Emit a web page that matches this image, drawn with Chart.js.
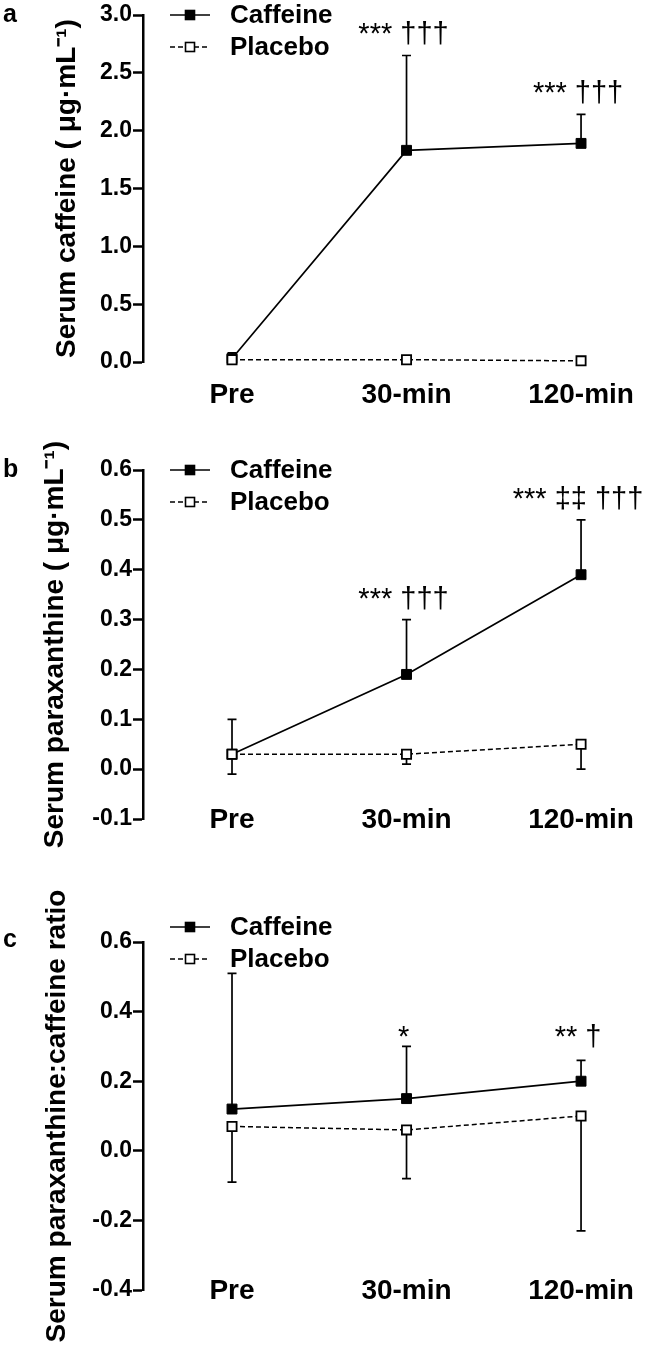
<!DOCTYPE html>
<html lang="en">
<head>
<meta charset="UTF-8">
<title>Serum caffeine and paraxanthine</title>
<script src="https://cdn.jsdelivr.net/npm/chart.js@4.4.1/dist/chart.umd.min.js"></script>
<style>
    body { margin: 0; background: #fff; }
    .panel { position: absolute; left: 0; }
</style>
</head>
<body>
<div class="panel" style="top:0"><canvas id="chartA" width="646" height="420"></canvas></div>
<div class="panel" style="top:420px"><canvas id="chartB" width="646" height="450"></canvas></div>
<div class="panel" style="top:870px"><canvas id="chartC" width="646" height="481"></canvas></div>
<script>
const timepoints = ['Pre', '30-min', '120-min'];

// a: serum caffeine
const caffeineA = [0.03, 1.83, 1.89];
const caffeineSdA = [0.05, 0.82, 0.25];
const placeboA = [0.02, 0.02, 0.01];
const placeboSdA = [0, 0, 0];
const ticksA = [0.0, 0.5, 1.0, 1.5, 2.0, 2.5, 3.0];
const notesA = ['', '*** †††', '*** †††'];

// b: serum paraxanthine
const caffeineB = [0.03, 0.19, 0.39];
const caffeineSdB = [0.07, 0.11, 0.11];
const placeboB = [0.03, 0.03, 0.05];
const placeboSdB = [0.04, 0.02, 0.05];
const ticksB = [-0.1, 0.0, 0.1, 0.2, 0.3, 0.4, 0.5, 0.6];
const notesB = ['', '*** †††', '*** ‡‡ †††'];

// c: paraxanthine:caffeine ratio
const caffeineC = [0.12, 0.15, 0.20];
const caffeineSdC = [0.39, 0.15, 0.06];
const placeboC = [0.07, 0.06, 0.10];
const placeboSdC = [0.16, 0.14, 0.33];
const ticksC = [-0.4, -0.2, 0.0, 0.2, 0.4, 0.6];
const notesC = ['', '*', '** †'];

const FONT = '"Liberation Sans", Arial, Helvetica, sans-serif';

// error bars, legend, panel letter and significance marks
const panelExtras = {
    id: 'panelExtras',
    beforeDatasetsDraw(chart) {
        const ctx = chart.ctx;
        const y = chart.scales.y;
        ctx.save();
        ctx.strokeStyle = '#000';
        ctx.lineWidth = 1.7;
        chart.data.datasets.forEach((ds, di) => {
            const meta = chart.getDatasetMeta(di);
            ds.sd.forEach((sd, i) => {
                if (!sd) return;
                const pt = meta.data[i];
                const y1 = y.getPixelForValue(ds.data[i].y + ds.errDir * sd);
                ctx.beginPath();
                ctx.moveTo(pt.x, pt.y);
                ctx.lineTo(pt.x, y1);
                ctx.moveTo(pt.x - 4.5, y1);
                ctx.lineTo(pt.x + 4.5, y1);
                ctx.stroke();
            });
        });
        ctx.restore();
    },
    afterDraw(chart, args, opts) {
        const ctx = chart.ctx;
        const xs = chart.scales.x, ys = chart.scales.y;
        ctx.save();
        ctx.fillStyle = '#000';

        // panel letter
        ctx.font = 'bold 25px ' + FONT;
        ctx.textAlign = 'left';
        ctx.textBaseline = 'alphabetic';
        ctx.fillText(opts.letter, 3, opts.letterY);

        // legend
        chart.data.datasets.forEach((ds, di) => {
            const ry = opts.legendY + di * 32;
            ctx.strokeStyle = '#000';
            ctx.lineWidth = 1.6;
            ctx.setLineDash(ds.borderDash || []);
            ctx.beginPath();
            ctx.moveTo(170, ry);
            ctx.lineTo(210, ry);
            ctx.stroke();
            ctx.setLineDash([]);
            ctx.fillStyle = ds.pointBackgroundColor;
            ctx.fillRect(185.5, ry - 4.5, 9, 9);
            ctx.lineWidth = 1.6;
            ctx.strokeRect(185.5, ry - 4.5, 9, 9);
            ctx.fillStyle = '#000';
            ctx.font = 'bold 26px ' + FONT;
            ctx.textBaseline = 'middle';
            ctx.fillText(ds.label, 230, ry + 1);
        });

        // significance marks above the caffeine points
        const caf = chart.data.datasets[0];
        ctx.font = '29px ' + FONT;
        ctx.textAlign = 'center';
        ctx.textBaseline = 'alphabetic';
        opts.notes.forEach((txt, i) => {
            if (!txt) return;
            const px = xs.getPixelForValue(i) - 3;
            let py;
            if (opts.noteLevel != null) py = ys.getPixelForValue(opts.noteLevel);
            else py = ys.getPixelForValue(caf.data[i].y + caf.sd[i]) - 12;
            ctx.fillText(txt, px, py);
        });
        ctx.restore();
    }
};

function makePanel(id, cfg) {
    const toXY = arr => arr.map((v, i) => ({ x: i, y: v }));
    return new Chart(document.getElementById(id), {
        type: 'line',
        data: {
            datasets: [{
                label: 'Caffeine',
                data: toXY(cfg.caffeine),
                sd: cfg.caffeineSd,
                errDir: 1,
                borderColor: '#000',
                borderWidth: 1.7,
                pointStyle: 'rect',
                pointRadius: 7,
                pointBackgroundColor: '#000',
                pointBorderColor: '#000',
                pointBorderWidth: 1,
                tension: 0,
                clip: false,
                order: 1
            }, {
                label: 'Placebo',
                data: toXY(cfg.placebo),
                sd: cfg.placeboSd,
                errDir: -1,
                borderColor: '#000',
                borderWidth: 1.5,
                borderDash: [5, 3],
                pointStyle: 'rect',
                pointRadius: 6.5,
                pointBackgroundColor: '#fff',
                pointBorderColor: '#000',
                pointBorderWidth: 1.8,
                tension: 0,
                clip: false,
                order: 0
            }]
        },
        options: {
            responsive: false,
            animation: false,
            events: [],
            layout: { padding: { top: cfg.top, right: 40, left: 0, bottom: 0 } },
            scales: {
                x: {
                    type: 'linear',
                    min: -0.51,
                    max: 2.143,
                    grid: { display: false, drawTicks: false },
                    border: { display: false },
                    afterBuildTicks: s => { s.ticks = timepoints.map((t, i) => ({ value: i })); },
                    afterFit: s => { s.height = cfg.xHeight; },
                    ticks: {
                        autoSkip: false,
                        maxRotation: 0,
                        mirror: true,
                        padding: cfg.xPad,
                        color: '#000',
                        font: { family: FONT, size: 28, weight: 'bold' },
                        callback: v => timepoints[v]
                    }
                },
                y: {
                    min: cfg.ticks[0],
                    max: cfg.ticks[cfg.ticks.length - 1],
                    afterBuildTicks: s => { s.ticks = cfg.ticks.map(v => ({ value: v })); },
                    afterFit: s => { s.width = 143; },
                    grid: { drawOnChartArea: false, drawTicks: true, tickLength: 10, tickWidth: 2.5, tickColor: '#000' },
                    border: { display: true, color: '#000', width: 2.5 },
                    ticks: {
                        padding: 1,
                        color: '#000',
                        font: { family: FONT, size: 23, weight: 'bold' },
                        callback: v => v.toFixed(1)
                    },
                    title: {
                        display: true,
                        text: cfg.title,
                        color: '#000',
                        padding: { top: cfg.titlePad, bottom: 0 },
                        font: { family: FONT, size: 28, weight: 'bold' }
                    }
                }
            },
            plugins: {
                legend: { display: false },
                tooltip: { enabled: false },
                panelExtras: {
                    letter: cfg.letter,
                    letterY: cfg.letterY,
                    legendY: cfg.legendY,
                    notes: cfg.notes,
                    noteLevel: cfg.noteLevel
                }
            }
        },
        plugins: [panelExtras]
    });
}

makePanel('chartA', {
    caffeine: caffeineA, caffeineSd: caffeineSdA, placebo: placeboA, placeboSd: placeboSdA,
    ticks: ticksA, notes: notesA, title: 'Serum caffeine ( μg·mL⁻¹)',
    letter: 'a', letterY: 22, legendY: 15, top: 15, xHeight: 58, xPad: -50, titlePad: 50
});
makePanel('chartB', {
    caffeine: caffeineB, caffeineSd: caffeineSdB, placebo: placeboB, placeboSd: placeboSdB,
    ticks: ticksB, notes: notesB, title: 'Serum paraxanthine ( μg·mL⁻¹)',
    letter: 'b', letterY: 57, legendY: 50, top: 50, xHeight: 51, xPad: -18, titlePad: 38
});
makePanel('chartC', {
    caffeine: caffeineC, caffeineSd: caffeineSdC, placebo: placeboC, placeboSd: placeboSdC,
    ticks: ticksC, notes: notesC, noteLevel: 0.30, title: 'Serum paraxanthine:caffeine ratio',
    letter: 'c', letterY: 77, legendY: 57, top: 72, xHeight: 61, xPad: -18, titlePad: 40
});
</script>
</body>
</html>
